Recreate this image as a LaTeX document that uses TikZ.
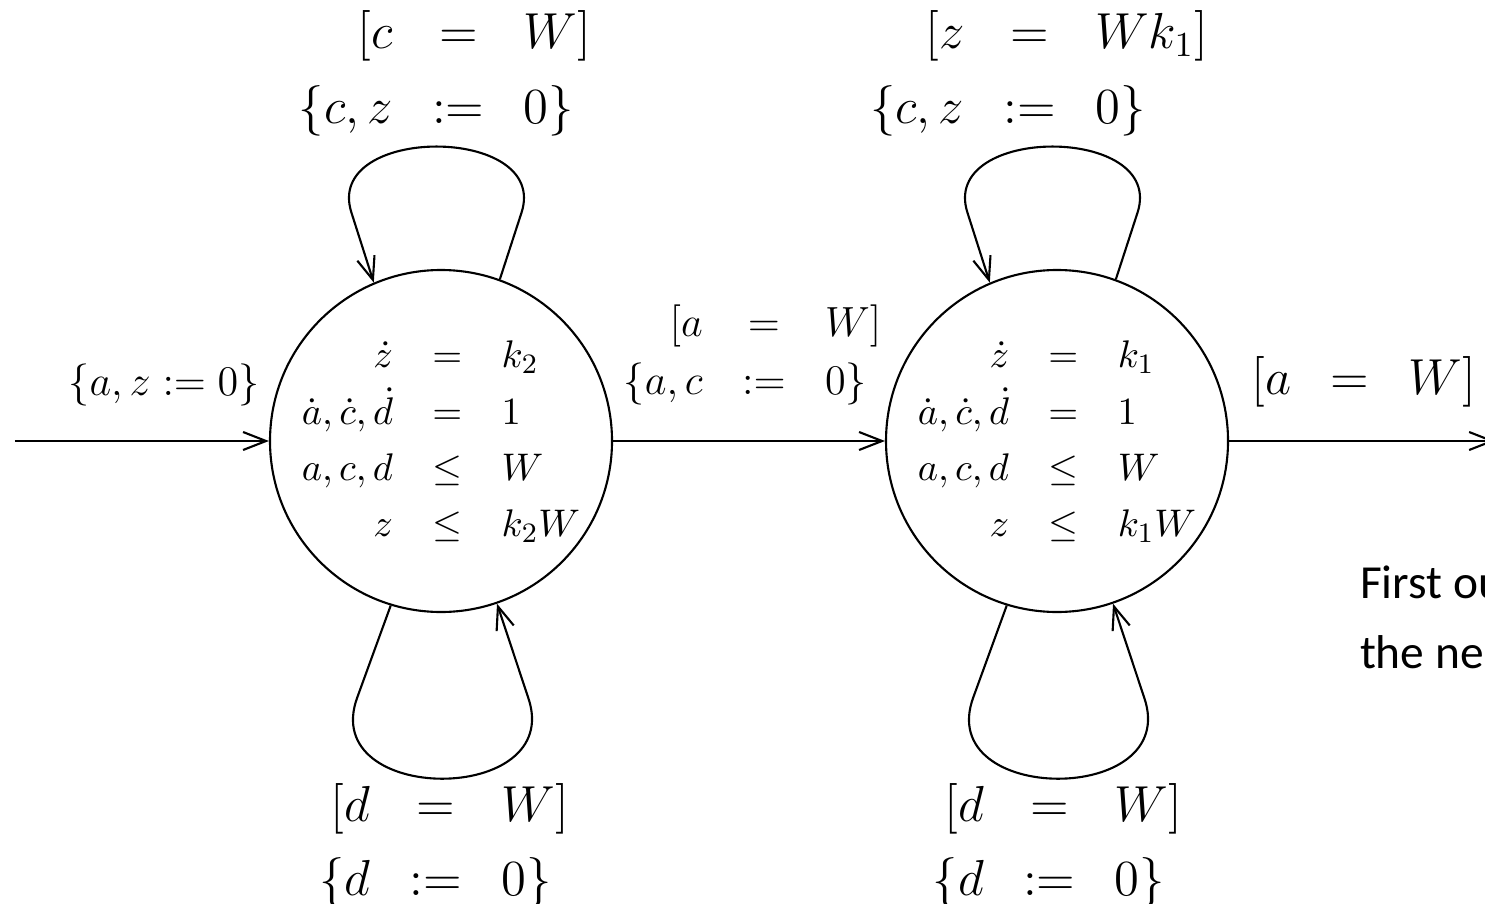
\documentclass[tikz,border=0pt]{standalone}
\usepackage{amsmath}
\usepackage[no-math]{fontspec}
\newfontfamily\notefont{Carlito}
\usetikzlibrary{arrows.meta}

\renewcommand{\arraystretch}{1.18}
\setlength{\arraycolsep}{5.6pt}

\tikzset{
  loc/.style={circle, draw, minimum size=3.42cm, inner sep=0pt},
  inv/.style={inner sep=0pt, font=\fontsize{10.95}{13.6}\selectfont},
  grd/.style={inner sep=0pt, anchor=base, font=\Large},
  grds/.style={inner sep=0pt, anchor=base, font=\large},
  note/.style={inner sep=0pt, anchor=base west, font=\notefont\fontsize{13.5}{16}\selectfont},
}

\begin{document}
\begin{tikzpicture}[line width=0.6pt, >={Straight Barb[length=2.3mm,width=1.8mm]}]
\useasboundingbox (0,0) rectangle (14.85,9.03);

% Locations
\node[loc] (c1) at (4.41,4.62) {};
\node[loc] (c2) at (10.57,4.62) {};
\node[inv] (c1inv) at (c1.center) {$\begin{array}{rcl}
  \dot z &=& k_2\\
  \dot a,\dot c,\dot d &=& 1\\
  a,c,d &\leq& W\\
  z &\leq& k_2W
\end{array}$};
\node[inv] (c2inv) at (c2.center) {$\begin{array}{rcl}
  \dot z &=& k_1\\
  \dot a,\dot c,\dot d &=& 1\\
  a,c,d &\leq& W\\
  z &\leq& k_1W
\end{array}$};

% Free ends
\coordinate (init) at (0.15,4.62);
\coordinate (exit) at (14.95,4.62);

% Transitions
\draw[->] (init) -- (c1);
\draw[->] (c1) -- (c2);
\draw[->] (c2) -- (exit);

% Self-loops
\draw[->] (c1.70) -- ++(72:0.7) to[out=72,in=108,looseness=1.4] ++(-1.7,0) -- (c1.113);
\draw[->] (c1.253) -- ++(250:0.98) to[out=250,in=289,looseness=1.72] ++(1.71,0) -- (c1.289);
\draw[->] (c2.70) -- ++(72:0.7) to[out=72,in=108,looseness=1.4] ++(-1.7,0) -- (c2.113);
\draw[->] (c2.253) -- ++(250:0.98) to[out=250,in=289,looseness=1.72] ++(1.71,0) -- (c2.289);

% Labels
\node[grds] (linit) at (1.64,5.075) {$\{a,z:=0\}$};
\node[grd] (l1top) at (4.45,8.544) {$\begin{array}[t]{rcl}
  {[}c &=& W]\\
  \{c,z &:=& 0\}
\end{array}$};
\node[grd] (l1bot) at (4.44,0.82) {$\begin{array}[t]{rcl}
  {[}d &=& W]\\
  \{d &:=& 0\}
\end{array}$};
\node[grds] (l12) at (7.525,5.67) {$\begin{array}[t]{rcl}
  {[}a &=& W]\\
  \{a,c &:=& 0\}
\end{array}$};
\node[grd] (l2top) at (10.39,8.544) {$\begin{array}[t]{rcl}
  {[}z &=& Wk_1]\\
  \{c,z &:=& 0\}
\end{array}$};
\node[grd] (l2bot) at (10.575,0.82) {$\begin{array}[t]{rcl}
  {[}d &=& W]\\
  \{d &:=& 0\}
\end{array}$};
\node[grd] (l2out) at (13.64,5.09) {$\begin{array}[t]{rcl}
  {[}a &=& W]
\end{array}$};

% Note
\node[note] (n1) at (13.59,3.05) {First ou};
\node[note] (n2) at (13.59,2.35) {the ne};
\end{tikzpicture}
\end{document}
